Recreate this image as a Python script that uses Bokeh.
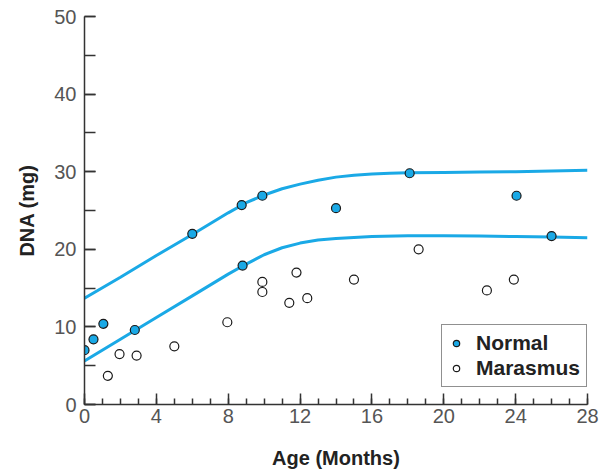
from bokeh.plotting import figure
from bokeh.models import Range1d, Legend, LegendItem, FixedTicker
from bokeh.embed import file_html
from bokeh.resources import INLINE

# Normal infants (filled)
normal_age = [0.0, 0.5, 1.05, 2.8, 6.0, 8.75, 8.8, 9.9, 14.0, 18.1, 24.05, 26.0]
normal_dna = [7.0, 8.4, 10.4, 9.6, 22.0, 25.7, 17.9, 26.9, 25.3, 29.8, 26.9, 21.7]

# Marasmus infants (open)
maras_age = [1.3, 1.95, 2.9, 5.0, 7.95, 9.9, 9.9, 11.4, 11.8, 12.4, 15.0, 18.6, 22.4, 23.9]
maras_dna = [3.7, 6.5, 6.3, 7.5, 10.6, 15.8, 14.5, 13.1, 17.0, 13.7, 16.1, 20.0, 14.7, 16.1]

# Upper fitted curve (normal)
upper_x = [0, 2, 4, 6, 8, 9, 10, 11, 12, 13, 14, 15, 16, 17, 18, 20, 22, 24, 26, 28]
upper_y = [13.7, 16.4, 19.2, 21.9, 24.7, 26.0, 27.0, 27.8, 28.4, 28.9, 29.3, 29.55,
           29.7, 29.8, 29.85, 29.9, 29.95, 30.0, 30.1, 30.2]

# Lower fitted curve
lower_x = [0, 2, 4, 6, 8, 9, 10, 11, 12, 13, 14, 16, 18, 20, 22, 24, 26, 28]
lower_y = [5.6, 8.4, 11.2, 14.0, 16.8, 18.1, 19.3, 20.2, 20.8, 21.2, 21.4, 21.65,
           21.75, 21.75, 21.7, 21.65, 21.6, 21.5]

x_ticks = [0, 4, 8, 12, 16, 20, 24, 28]
y_ticks = [0, 10, 20, 30, 40, 50]

BLUE = "#1aa9e6"
AXIS = "#333333"

p = figure(width=600, height=471, output_backend="svg", toolbar_location=None,
           x_range=Range1d(0, 28), y_range=Range1d(0, 50),
           min_border_left=84, min_border_right=13, min_border_top=16, min_border_bottom=66)
p.outline_line_color = None
p.grid.visible = False
p.background_fill_color = "white"

p.line(upper_x, upper_y, line_color=BLUE, line_width=3)
p.line(lower_x, lower_y, line_color=BLUE, line_width=3)

rn = p.scatter(normal_age, normal_dna, size=9, fill_color=BLUE, line_color="#1a1a1a", line_width=1.2)
rm = p.scatter(maras_age, maras_dna, size=9, fill_color="white", line_color="#1a1a1a", line_width=1.2)

# axes
for ax in (p.xaxis[0], p.yaxis[0]):
    ax.axis_line_color = AXIS
    ax.axis_line_width = 1.5
    ax.major_tick_line_color = AXIS
    ax.minor_tick_line_color = AXIS
    ax.major_tick_line_width = 1.5
    ax.minor_tick_line_width = 1.5
    ax.major_tick_out = 0
    ax.minor_tick_out = 0
    ax.major_label_text_font = "Liberation Sans"
    ax.major_label_text_font_size = "20px"
    ax.major_label_text_color = "#555555"
    ax.axis_label_text_font = "Liberation Sans"
    ax.axis_label_text_font_size = "20px"
    ax.axis_label_text_font_style = "bold"
    ax.axis_label_text_color = "#222222"

p.xaxis.ticker = FixedTicker(ticks=x_ticks, minor_ticks=list(range(0, 29)))
p.yaxis.ticker = FixedTicker(ticks=y_ticks, minor_ticks=list(range(0, 51, 5)))
p.xaxis.major_tick_in = 11
p.xaxis.minor_tick_in = 6
p.yaxis.major_tick_in = 11
p.yaxis.minor_tick_in = 11
p.xaxis.major_label_standoff = 4
p.yaxis.major_label_standoff = 8
p.xaxis.axis_label = "Age (Months)"
p.yaxis.axis_label = "DNA (mg)"
p.xaxis.axis_label_standoff = 21
p.yaxis.axis_label_standoff = 13

legend = Legend(items=[LegendItem(label="Normal", renderers=[rn]),
                       LegendItem(label="Marasmus", renderers=[rm])],
                location=(357, 17))
legend.label_text_font = "Liberation Sans"
legend.label_text_font_style = "bold"
legend.label_text_font_size = "21px"
legend.label_text_color = "#222222"
legend.border_line_color = "#222222"
legend.border_line_width = 1.5
legend.background_fill_alpha = 1
legend.margin = 0
legend.padding = 6
legend.spacing = 1
legend.glyph_width = 16
legend.glyph_height = 22
legend.label_height = 22
legend.label_standoff = 12
p.add_layout(legend, "center")

open("out.html", "w").write(file_html(p, INLINE))
